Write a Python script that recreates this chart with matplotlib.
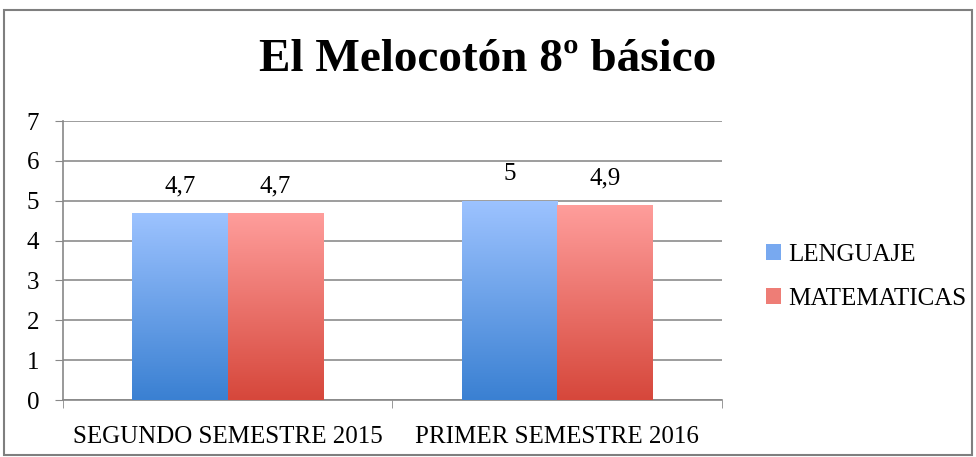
import numpy as np
import matplotlib
matplotlib.use("Agg")
import matplotlib.pyplot as plt
from matplotlib.patches import Rectangle, Patch
from matplotlib.colors import LinearSegmentedColormap

categories = ["SEGUNDO SEMESTRE 2015", "PRIMER SEMESTRE 2016"]
lenguaje = [4.7, 5.0]
matematicas = [4.7, 4.9]
labels_len = ["4,7", "5"]
labels_mat = ["4,7", "4,9"]
series_names = ["LENGUAJE", "MATEMATICAS"]

plt.rcParams['font.family'] = ['Liberation Serif', 'DejaVu Serif']

fig = plt.figure(figsize=(9.76, 4.57), dpi=100)
ax = fig.add_axes([0.0645, 0.1247, 0.6753, 0.6105])

# outer chart frame
fig.patches.append(Rectangle((0.004, 0.004), 0.992, 0.974, transform=fig.transFigure,
                             fill=False, edgecolor='#7f7f7f', linewidth=1.5))

x = np.arange(len(categories))
w = 0.29
blue_cmap = LinearSegmentedColormap.from_list('b', ['#3a80d2', '#9dc3ff'])
red_cmap = LinearSegmentedColormap.from_list('r', ['#d6473b', '#ff9e9c'])

b1 = ax.bar(x - w/2, lenguaje, w, color='#7aaaf0', zorder=3)
b2 = ax.bar(x + w/2, matematicas, w, color='#ef7f7a', zorder=3)

# vertical gradient fill, clipped to each bar
grad = np.linspace(0, 1, 256).reshape(-1, 1)
for bars, cmap in [(b1, blue_cmap), (b2, red_cmap)]:
    for p in bars:
        x0, y0 = p.get_x(), p.get_y()
        x1, y1 = x0 + p.get_width(), y0 + p.get_height()
        im = ax.imshow(grad, cmap=cmap, origin='lower', aspect='auto',
                       extent=[x0, x1, y0, y1], zorder=4)
        im.set_clip_path(p)

for bars, labs in [(b1, labels_len), (b2, labels_mat)]:
    for p, t in zip(bars, labs):
        ax.annotate(t, (p.get_x() + p.get_width()/2, p.get_height()),
                    xytext=(0, 19), textcoords='offset points',
                    ha='center', va='center', fontsize=18, zorder=5)

ax.set_xlim(-0.5, 1.5)
ax.set_ylim(0, 7)
ax.set_yticks(range(8))
ax.set_xticks(x)
ax.set_xticklabels(categories, fontsize=18)
ax.set_xticks([-0.5, 0.5, 1.5], minor=True)
ax.tick_params(axis='x', which='major', length=0, pad=19)
ax.tick_params(axis='x', which='minor', length=6, color='#888888', direction='out')
ax.tick_params(axis='y', length=6, color='#888888', labelsize=18, pad=11)
ax.yaxis.grid(True, color='#8c8c8c', linewidth=1.2, zorder=0)
ax.set_axisbelow(True)
for s in ['top', 'right']:
    ax.spines[s].set_visible(False)
for s in ['left', 'bottom']:
    ax.spines[s].set_color('#888888')
    ax.spines[s].set_linewidth(1.2)

fig.text(0.5, 0.868, "El Melocotón 8º básico", ha='center', va='center',
         fontsize=34, fontweight='bold')

handles = [Patch(facecolor='#78a9f0'), Patch(facecolor='#ee7d76')]
fig.legend(handles, series_names, loc='center left', bbox_to_anchor=(0.785, 0.394),
           frameon=False, fontsize=18, handlelength=0.6, handleheight=0.6,
           handletextpad=0.28, labelspacing=0.9, borderaxespad=0, borderpad=0)

fig.savefig('out.png', dpi=100)
